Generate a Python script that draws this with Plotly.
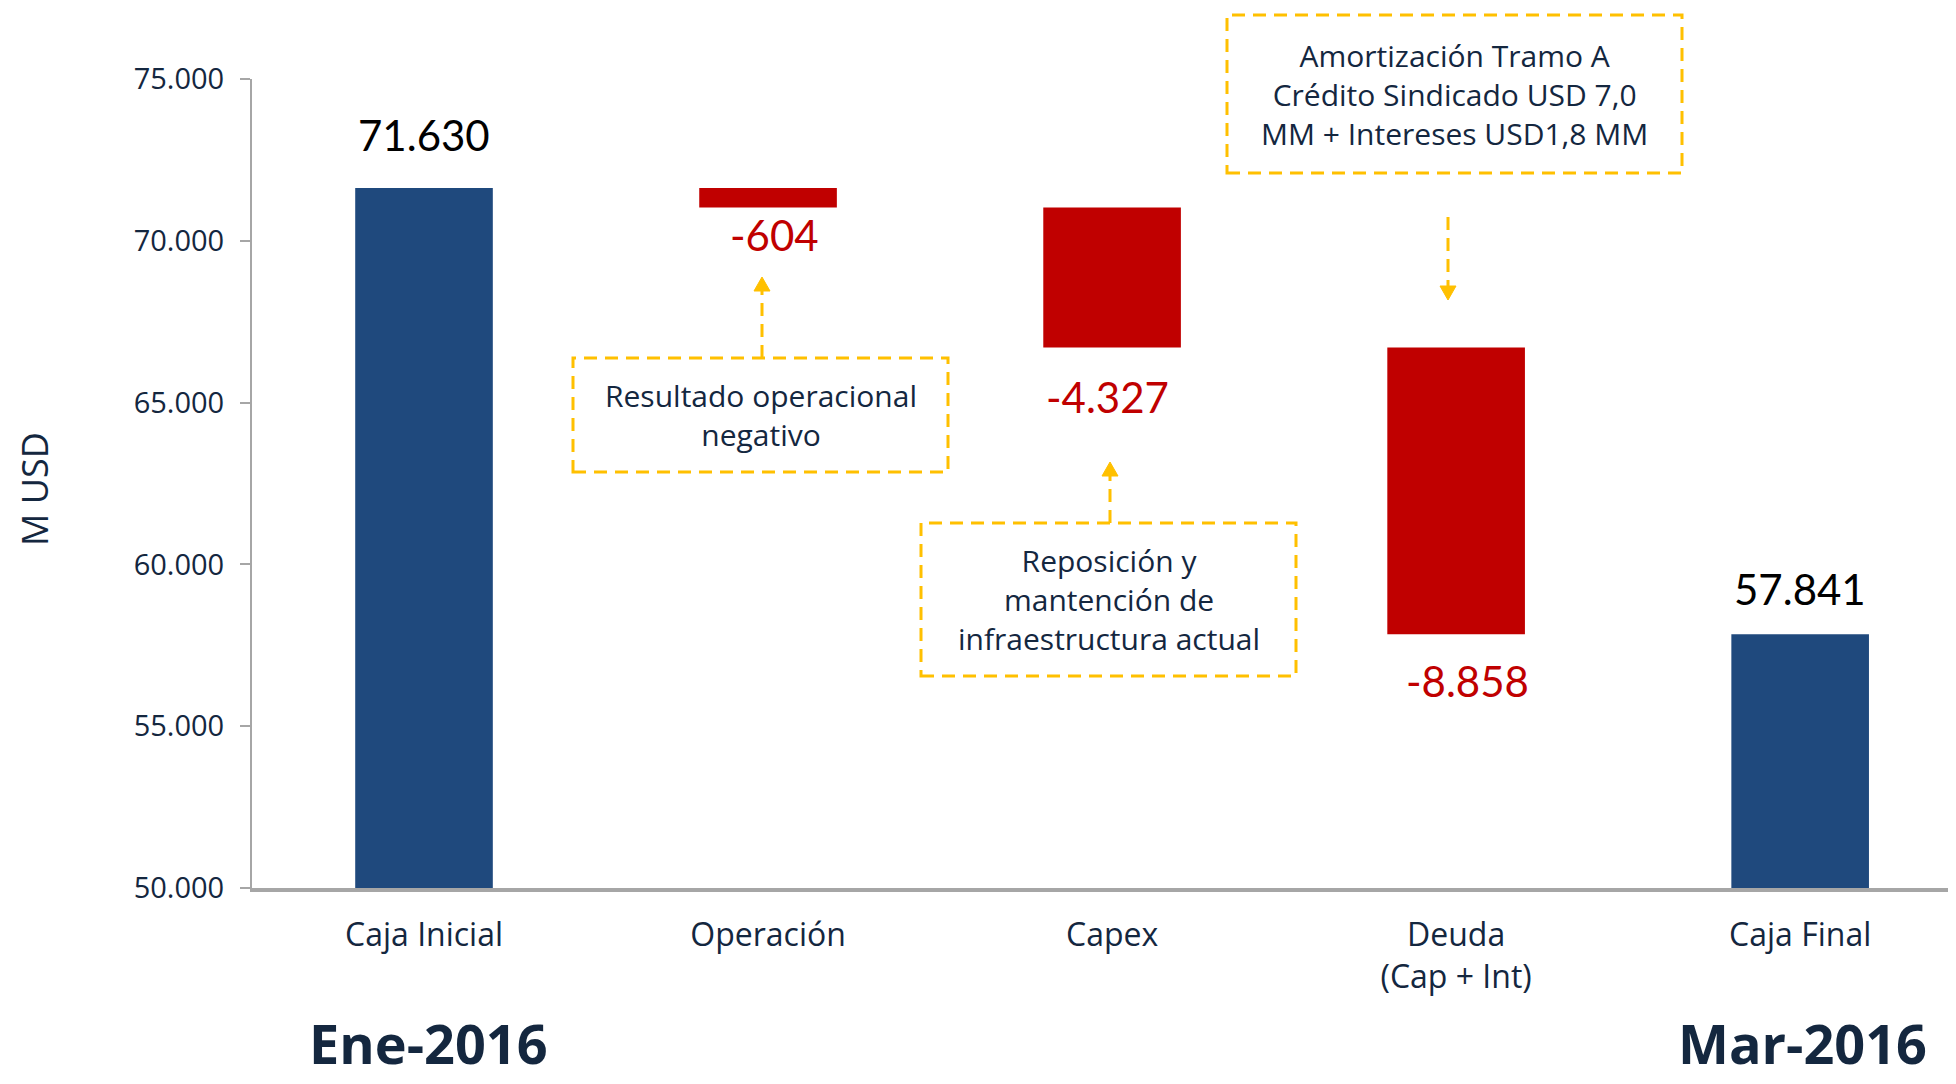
import plotly.graph_objects as go

# ---------------- data ----------------
categories = ["Caja Inicial", "Operación", "Capex", "Deuda<br>(Cap + Int)", "Caja Final"]
measures = ["absolute", "relative", "relative", "relative", "total"]
values = [71630, -604, -4327, -8858, 57841]
y_ticks = [50000, 55000, 60000, 65000, 70000, 75000]
period_labels = ["Ene-2016", "Mar-2016"]
notes = [
    "Resultado operacional<br>negativo",
    "Reposición y<br>mantención de<br>infraestructura actual",
    "Amortización Tramo A<br>Crédito Sindicado USD 7,0<br>MM + Intereses USD1,8 MM",
]

# ---------------- style ----------------
OFF = 8  # page body margin of the html page
W, H = 1956 - OFF, 1084 - OFF
ML, MR, MT = 252 - OFF, 0, 79 - OFF
MB = H - (888 - OFF)
NAVY = "#14273F"
BLUE = "#1F497D"
RED = "#C00000"
GOLD = "#FFC000"
GREY = "#A6A6A6"
FONT = "Open Sans"
NUMFONT = "Lato"


def fmt(v):
    return f"{v:,}".replace(",", ".")


def px_x(x):
    # x: page pixel -> paper coordinate
    return (x - OFF - ML) / (W - ML - MR)


def px_y(y):
    return (H - MB - (y - OFF)) / (H - MT - MB)


fig = go.Figure()
fig.add_trace(go.Waterfall(
    x=categories,
    y=values,
    measure=measures,
    width=0.4,
    totals=dict(marker=dict(color=BLUE, line=dict(width=0))),
    decreasing=dict(marker=dict(color=RED, line=dict(width=0))),
    increasing=dict(marker=dict(color=BLUE, line=dict(width=0))),
    connector=dict(visible=False),
    hoverinfo="skip",
))

annotations = []
shapes = []

# value labels, computed from the data
running = 0
label_shift = [(0, 53), (6, -27), (-5, -49), (11, -47), (0, 45)]
for i, (cat, m, v) in enumerate(zip(categories, measures, values)):
    if m == "absolute":
        running = v
        yv, txt, col = running, fmt(v), "#000000"
    elif m == "relative":
        running += v
        yv, txt, col = running, fmt(v), RED
    else:
        yv, txt, col = running, fmt(running), "#000000"
    dx, dy = label_shift[i]
    annotations.append(dict(
        x=cat, y=yv, xref="x", yref="y", text=txt, showarrow=False,
        xshift=dx, yshift=dy, xanchor="center", yanchor="middle",
        font=dict(family=NUMFONT, size=42, color=col),
    ))

# y axis title
annotations.append(dict(
    x=px_x(35), y=px_y(489), xref="paper", yref="paper", text="M USD",
    textangle=-90, showarrow=False, xanchor="center", yanchor="middle",
    font=dict(family=FONT, size=36, color=NAVY),
))

# period labels
for lbl, cx in zip(period_labels, [428, 1802]):
    annotations.append(dict(
        x=px_x(cx), y=px_y(1043), xref="paper", yref="paper",
        text=f"<b>{lbl}</b>", showarrow=False, xanchor="center", yanchor="middle",
        font=dict(family=FONT, size=54, color=NAVY),
    ))

# callout boxes: (left, top, right, bottom) in page px, arrow (x, y_from, y_tip)
boxes = [
    ((573, 358, 948, 472), (762, 358, 277)),
    ((921, 523, 1296, 676), (1110, 523, 462)),
    ((1227, 15, 1682, 173), (1448, 217, 300)),
]
DASH = "13px,8px"
for note, ((l, t, r, b), (ax, y0, ytip)) in zip(notes, boxes):
    shapes.append(dict(
        type="rect", xref="paper", yref="paper",
        x0=px_x(l), x1=px_x(r), y0=px_y(b), y1=px_y(t),
        line=dict(color=GOLD, width=3, dash=DASH), fillcolor="rgba(0,0,0,0)",
    ))
    annotations.append(dict(
        x=px_x((l + r) / 2), y=px_y((t + b) / 2), xref="paper", yref="paper",
        text=note, showarrow=False, xanchor="center", yanchor="middle",
        font=dict(family=FONT, size=30, color=NAVY),
    ))
    direction = 1 if ytip < y0 else -1  # 1 = arrow points up
    ybase = ytip + 14 * direction
    shapes.append(dict(
        type="line", xref="paper", yref="paper",
        x0=px_x(ax), x1=px_x(ax), y0=px_y(y0), y1=px_y(ybase),
        line=dict(color=GOLD, width=3, dash=DASH),
    ))
    path = (f"M {px_x(ax)} {px_y(ytip)} L {px_x(ax - 8)} {px_y(ybase)} "
            f"L {px_x(ax + 8)} {px_y(ybase)} Z")
    shapes.append(dict(
        type="path", xref="paper", yref="paper", path=path,
        fillcolor=GOLD, line=dict(color=GOLD, width=1),
    ))

fig.update_layout(
    width=W, height=H,
    margin=dict(l=ML, r=MR, t=MT, b=MB, pad=0),
    paper_bgcolor="white", plot_bgcolor="white",
    showlegend=False,
    separators=",.",
    annotations=annotations,
    shapes=shapes,
    xaxis=dict(
        type="category",
        range=[-0.5, 4.453],
        showgrid=False, zeroline=False,
        showline=True, linecolor=GREY, linewidth=4,
        ticks="",
        ticklabelstandoff=16,
        tickfont=dict(family=FONT, size=32, color=NAVY),
    ),
    yaxis=dict(
        range=[50000, 75000],
        tickvals=y_ticks,
        ticktext=[fmt(v) for v in y_ticks],
        showgrid=False, zeroline=False,
        showline=True, linecolor=GREY, linewidth=2,
        ticks="outside", ticklen=10, tickcolor=GREY, tickwidth=2,
        ticklabelstandoff=10,
        tickfont=dict(family=FONT, size=29, color=NAVY),
    ),
)

fig.write_html("out.html")
